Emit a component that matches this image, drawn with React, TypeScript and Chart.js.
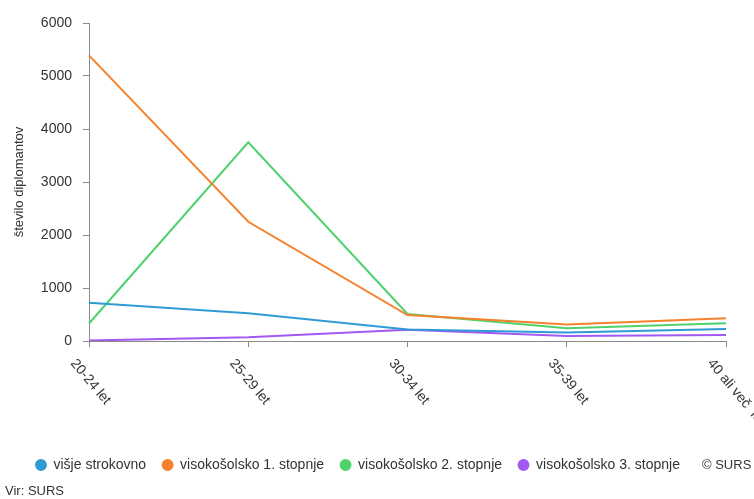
import React, { useEffect, useRef } from "react";
import { Chart, registerables } from "chart.js";

Chart.register(...registerables);

const categories = ["20-24 let", "25-29 let", "30-34 let", "35-39 let", "40 ali več  let"];
const seriesNames = ["višje strokovno", "visokošolsko 1. stopnje", "visokošolsko 2. stopnje", "visokošolsko 3. stopnje"];
const visjeStrokovno = [720, 525, 215, 160, 225];
const visokosolsko1 = [5390, 2250, 490, 310, 430];
const visokosolsko2 = [330, 3750, 510, 240, 335];
const visokosolsko3 = [10, 70, 210, 95, 115];
const seriesColors = ["#2f9bd4", "#f7812c", "#51d16b", "#a259f2"];
const yTicks = { min: 0, max: 6000, step: 1000 };
const yTitle = "število diplomantov";
const sourceText = "Vir: SURS";
const creditText = "© SURS";

const FONT = '"Liberation Sans", Arial, sans-serif';
const TEXT = "#333333";
const AXIS = "#8a8a8a";
const PAD_LEFT = 19.5;
const LEGEND_PAD = 16;

const xLabelPlugin = {
  id: "rotatedXLabels",
  afterDraw(chart: any) {
    const xs = chart.scales.x;
    const ctx = chart.ctx;
    ctx.save();
    ctx.font = `14px ${FONT}`;
    ctx.fillStyle = TEXT;
    ctx.textAlign = "left";
    ctx.textBaseline = "middle";
    categories.forEach((lab, i) => {
      const px = xs.getPixelForValue(i);
      ctx.save();
      ctx.translate(px - 16, xs.top + 20);
      ctx.rotate((50 * Math.PI) / 180);
      ctx.fillText(lab, 0, 0);
      ctx.restore();
    });
    ctx.restore();
  },
};

export default function App() {
  const ref = useRef<HTMLCanvasElement | null>(null);
  useEffect(() => {
    if (!ref.current) return;
    const data = [visjeStrokovno, visokosolsko1, visokosolsko2, visokosolsko3];
    const chart = new Chart(ref.current, {
      type: "line",
      data: {
        labels: categories,
        datasets: data.map((d, i) => ({
          label: seriesNames[i],
          data: d,
          borderColor: seriesColors[i],
          backgroundColor: seriesColors[i],
          borderWidth: 2,
          pointRadius: 0,
          pointHoverRadius: 0,
          pointStyle: "circle",
          tension: 0,
          fill: false,
        })),
      },
      options: {
        animation: false,
        responsive: false,
        maintainAspectRatio: false,
        layout: { padding: { top: 23, right: 28, bottom: 17, left: PAD_LEFT } },
        plugins: {
          tooltip: { enabled: false },
          legend: {
            position: "bottom",
            align: "start",
            labels: {
              usePointStyle: true,
              pointStyle: "circle",
              boxWidth: 11,
              boxHeight: 7,
              padding: LEGEND_PAD,
              color: TEXT,
              font: { family: FONT, size: 14 },
            },
          },
        },
        scales: {
          x: {
            type: "category",
            offset: false,
            ticks: { display: false },
            grid: { display: true, drawOnChartArea: false, drawTicks: true, tickLength: 6, color: AXIS },
            border: { display: true, color: AXIS, width: 1 },
            afterFit(scale: any) {
              scale.height = 101;
              scale.paddingLeft = 0;
              scale.paddingRight = 0;
            },
          },
          y: {
            min: yTicks.min,
            max: yTicks.max,
            ticks: {
              stepSize: yTicks.step,
              padding: 11,
              color: TEXT,
              font: { family: FONT, size: 14 },
              callback: (v: any) => String(v),
            },
            grid: { display: true, drawOnChartArea: false, drawTicks: true, tickLength: 6, color: AXIS },
            border: { display: true, color: AXIS, width: 1 },
            title: {
              display: true,
              text: yTitle,
              color: TEXT,
              font: { family: FONT, size: 13 },
              padding: { top: 19 - PAD_LEFT - 7.8, bottom: 0 },
            },
            afterFit(scale: any) {
              scale.width = 89 - PAD_LEFT;
              scale.paddingTop = 0;
              scale.paddingBottom = 0;
            },
          },
        },
      },
      plugins: [xLabelPlugin],
    });
    return () => chart.destroy();
  }, []);

  return (
    <div style={{ position: "absolute", left: 0, top: 0, width: 754, height: 499, background: "#fff", fontFamily: FONT }}>
      <canvas ref={ref} width={754} height={499} style={{ width: 754, height: 499, display: "block" }} />
      <div style={{ position: "absolute", left: 702, top: 457, fontSize: 13, color: TEXT, lineHeight: "16px", whiteSpace: "nowrap" }}>
        {creditText}
      </div>
      <div style={{ position: "absolute", left: 5, top: 483, fontSize: 13, color: TEXT, lineHeight: "16px", whiteSpace: "nowrap" }}>
        {sourceText}
      </div>
    </div>
  );
}
